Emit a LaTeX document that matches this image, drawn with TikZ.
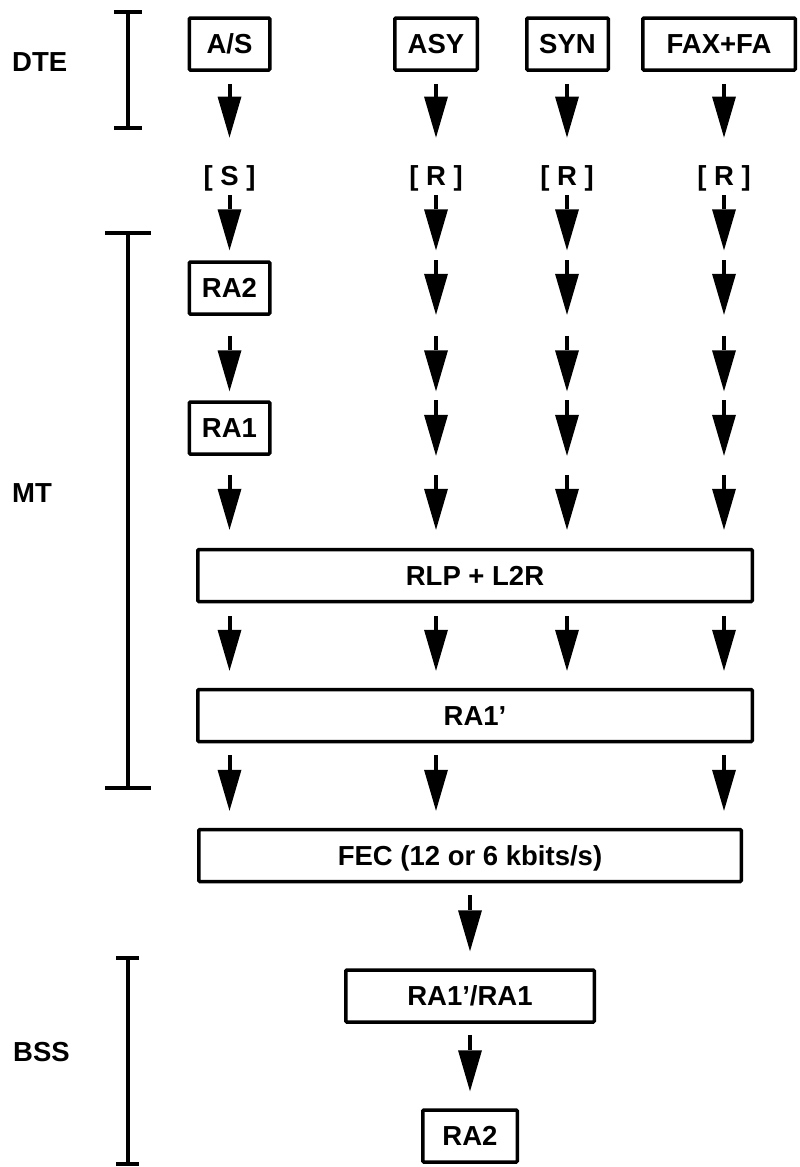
\documentclass[tikz,border=0pt]{standalone}
\usepackage{fontspec}
\setmainfont{Liberation Sans}
\usetikzlibrary{arrows.meta}
\begin{document}
\begin{tikzpicture}[x=1pt,y=-1pt,
  txt/.style={font=\fontsize{27.5}{32}\selectfont\bfseries,text height=19.5pt,text depth=0pt},
  box/.style={txt,draw,line width=3.5pt,rounded corners=1pt,inner sep=0pt,minimum height=52pt},
  lbl/.style={txt,inner sep=0pt},
  side/.style={txt,inner sep=0pt,anchor=west},
  arr/.style={line width=4pt,-{Triangle[length=41pt,width=24pt,line width=0pt]}},
  brk/.style={line width=4pt}]
\useasboundingbox (0,0) rectangle (800,1167);

% side labels
\node[side] (dte) at (12,62) {DTE};
\node[side] (mt) at (12,493) {MT};
\node[side] (bss) at (13,1052) {BSS};

% brackets
\draw[brk] (114,12) -- (142,12) (128,12) -- (128,128) (114,128) -- (142,128);
\draw[brk] (105,233) -- (151,233) (128,233) -- (128,788) (105,788) -- (151,788);
\draw[brk] (116,958) -- (139,958) (128,958) -- (128,1164) (116,1164) -- (139,1164);

% top boxes
\node[box,minimum width=80.5pt] (as) at (229.5,44) {A/S};
\node[box,minimum width=82.5pt] (asy) at (436,44) {ASY};
\node[box,minimum width=81.5pt] (syn) at (567.5,44) {SYN};
\node[box,minimum width=152.5pt] (fax) at (719,44) {FAX+FA};

% S / R labels
\node[lbl] (s1) at (229.5,176) {[ S ]};
\node[lbl] (r1) at (436,176) {[ R ]};
\node[lbl] (r2) at (567,176) {[ R ]};
\node[lbl] (r3) at (724,176) {[ R ]};

% column 1 boxes
\node[box,minimum width=80.5pt] (ra2a) at (229.5,288) {RA2};
\node[box,minimum width=80.5pt] (ra1a) at (229.5,428) {RA1};

% wide boxes
\node[box,minimum width=554.5pt] (rlp) at (475,575.5) {RLP + L2R};
\node[box,minimum width=554.5pt] (ra1p) at (475,715.5) {RA1’};
\node[box,minimum width=542.5pt] (fec) at (470,855.5) {FEC (12 or 6 kbits/s)};

% BSS boxes
\node[box,minimum width=248.5pt] (ra1r) at (470,996) {RA1’/RA1};
\node[box,minimum width=94.5pt] (ra2b) at (470,1136) {RA2};

% column 1 arrows
\draw[arr] ([yshift=-12pt]as.south) -- ([yshift=28.5pt]s1.north);
\draw[arr] ([yshift=-9.5pt]s1.south) -- ([yshift=10pt]ra2a.north);
\draw[arr] ([yshift=-20pt]ra2a.south) -- ([yshift=9pt]ra1a.north);
\draw[arr] ([yshift=-19pt]ra1a.south) -- ([yshift=18pt]rlp.north -| s1);

% columns 2-4 arrows
\foreach \b/\n in {asy/r1, syn/r2, fax/r3}{
  \draw[arr] ([yshift=-12pt]\b.south -| \n) -- ([yshift=28.5pt]\n.north);
  \draw[arr] ([yshift=-9.5pt]\n.south) -- ([yshift=10pt]ra2a.north -| \n);
  \draw[arr] (ra2a.north -| \n) -- ([yshift=1pt]ra2a.south -| \n);
  \draw[arr] ([yshift=-20pt]ra2a.south -| \n) -- ([yshift=9pt]ra1a.north -| \n);
  \draw[arr] (ra1a.north -| \n) -- (ra1a.south -| \n);
  \draw[arr] ([yshift=-19pt]ra1a.south -| \n) -- ([yshift=18pt]rlp.north -| \n);
}

% RLP -> RA1'
\foreach \n in {s1,r1,r2,r3}{
  \draw[arr] ([yshift=-13pt]rlp.south -| \n) -- ([yshift=17pt]ra1p.north -| \n);
}
% RA1' -> FEC
\foreach \n in {s1,r1,r3}{
  \draw[arr] ([yshift=-12pt]ra1p.south -| \n) -- ([yshift=17pt]fec.north -| \n);
}
% FEC -> RA1'/RA1 -> RA2
\draw[arr] ([yshift=-12pt]fec.south -| ra1r) -- ([yshift=17pt]ra1r.north);
\draw[arr] ([yshift=-11pt]ra1r.south) -- ([yshift=17pt]ra2b.north);
\end{tikzpicture}
\end{document}
